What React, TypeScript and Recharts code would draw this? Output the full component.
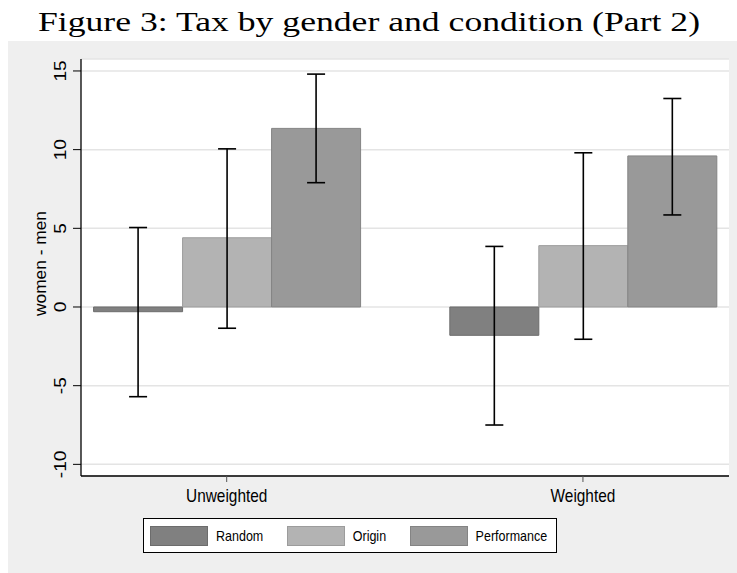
import React from 'react';
import { BarChart, Bar, XAxis, YAxis, CartesianGrid, ErrorBar, Label } from 'recharts';

const categories = ['Unweighted', 'Weighted'];
const positions = [1, 2];
const seriesNames = ['Random', 'Origin', 'Performance'];
const seriesFills = ['#808080', '#b3b3b3', '#999999'];
const seriesStrokes = ['#6c6c6c', '#9c9c9c', '#848484'];

const randomMean = [-0.3, -1.8];
const originMean = [4.4, 3.9];
const performanceMean = [11.35, 9.6];

const randomLow = [-5.7, -7.5];
const randomHigh = [5.05, 3.85];
const originLow = [-1.35, -2.05];
const originHigh = [10.05, 9.8];
const performanceLow = [7.9, 5.85];
const performanceHigh = [14.8, 13.25];

const yTicks = [-10, -5, 0, 5, 10, 15];

const means = [randomMean, originMean, performanceMean];
const lows = [randomLow, originLow, performanceLow];
const highs = [randomHigh, originHigh, performanceHigh];

const data = categories.map((name, i) => {
  const row: any = { name, pos: positions[i] };
  seriesNames.forEach((s, j) => {
    row[s] = means[j][i];
    row[s + 'Err'] = [means[j][i] - lows[j][i], highs[j][i] - means[j][i]];
  });
  return row;
});

// the source picture is stretched vertically, so text gets the same stretch
const K = 1.2;
const SANS = "'Liberation Sans', Arial, Helvetica, sans-serif";

const YTick = (props: any) => {
  const { x, y, payload } = props;
  return (
    <text
      transform={`translate(${x - 7},${y}) rotate(-90) scale(${K},1)`}
      textAnchor="middle"
      fontSize={16}
      fontFamily={SANS}
      fill="#000"
    >
      {payload.value}
    </text>
  );
};

const XTick = (props: any) => {
  const { x, y, payload } = props;
  const idx = positions.indexOf(payload.value);
  return (
    <text
      transform={`translate(${x},${y + 20}) scale(1,${K})`}
      textAnchor="middle"
      fontSize={15.4}
      fontFamily={SANS}
      fill="#000"
    >
      {categories[idx]}
    </text>
  );
};

const YLabel = (props: any) => {
  const vb = props.viewBox;
  const cx = vb.x + 15;
  const cy = vb.y + vb.height / 2 - 4;
  return (
    <text
      transform={`translate(${cx},${cy}) rotate(-90) scale(1.05,1)`}
      textAnchor="middle"
      fontSize={16.5}
      fontFamily={SANS}
      fill="#000"
    >
      women - men
    </text>
  );
};

const App: React.FC = () => {
  return (
    <div style={{ position: 'absolute', left: 0, top: 0, width: 737, height: 573, background: '#fff' }}>
      <svg width={737} height={41} style={{ position: 'absolute', left: 0, top: 0 }}>
        <text
          x={38}
          y={31}
          fontSize={28}
          fontFamily="'Liberation Serif', 'Times New Roman', serif"
          textLength={662}
          lengthAdjust="spacingAndGlyphs"
          fill="#000"
        >
          Figure 3: Tax by gender and condition (Part 2)
        </text>
      </svg>
      <div style={{ position: 'absolute', left: 8, top: 41, width: 729, height: 532, background: '#efefef' }}>
        <BarChart
          width={729}
          height={532}
          data={data}
          margin={{ top: 18, right: 8, bottom: 57, left: 23 }}
          barGap={0}
          barSize={89}
        >
          <CartesianGrid vertical={false} stroke="#e4e4e4" strokeWidth={1.5} fill="#ffffff" />
          <XAxis
            dataKey="pos"
            type="number"
            domain={[0.591, 2.41]}
            ticks={positions}
            height={40}
            tickSize={6}
            tickMargin={0}
            axisLine={{ stroke: '#000', strokeWidth: 1.3 }}
            tickLine={{ stroke: '#555', strokeWidth: 1 }}
            tick={<XTick />}
          />
          <YAxis
            type="number"
            domain={[-10.74, 15.76]}
            ticks={yTicks}
            width={50}
            tickSize={8}
            tickMargin={0}
            axisLine={{ stroke: '#000', strokeWidth: 1.3 }}
            tickLine={{ stroke: '#000', strokeWidth: 1 }}
            tick={<YTick />}
          >
            <Label content={<YLabel />} />
          </YAxis>
          {seriesNames.map((s, j) => (
            <Bar
              key={s}
              dataKey={s}
              fill={seriesFills[j]}
              stroke={seriesStrokes[j]}
              strokeWidth={1}
              isAnimationActive={false}
            >
              <ErrorBar dataKey={s + 'Err'} width={9} stroke="#000" strokeWidth={1.6} direction="y" />
            </Bar>
          ))}
        </BarChart>
      </div>
      <div
        style={{
          position: 'absolute',
          left: 143,
          top: 518,
          width: 414,
          height: 35,
          boxSizing: 'border-box',
          border: '1px solid #000',
          background: '#fff',
          display: 'flex',
          alignItems: 'center',
          paddingLeft: 6,
        }}
      >
        {seriesNames.map((s, j) => (
          <div key={s} style={{ display: 'flex', alignItems: 'center', marginRight: 23.5 }}>
            <div
              style={{
                width: 58,
                height: 20,
                boxSizing: 'border-box',
                background: seriesFills[j],
                border: `1px solid ${seriesStrokes[j]}`,
                marginRight: 8,
              }}
            />
            <span
              style={{
                display: 'inline-block',
                fontFamily: SANS,
                fontSize: 12.5,
                transform: `scaleY(${K})`,
                color: '#000',
                lineHeight: '14px',
              }}
            >
              {s}
            </span>
          </div>
        ))}
      </div>
    </div>
  );
};

export default App;
